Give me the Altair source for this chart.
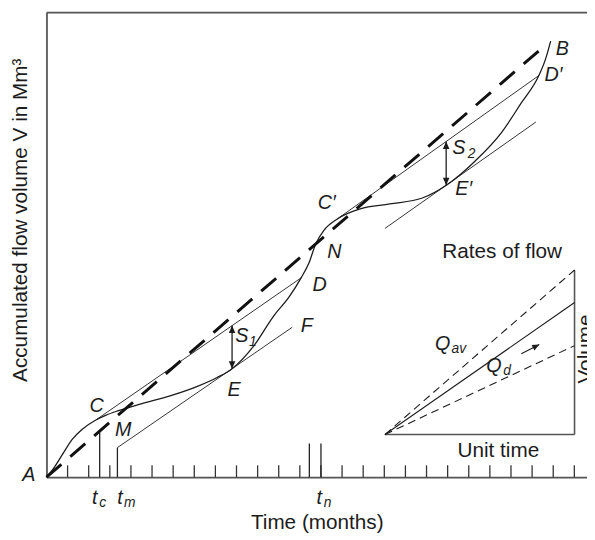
import altair as alt
import pandas as pd

# ---------------- data (x: months, y: accumulated volume, arbitrary units) ----------------
# mass curve of inflow A ... B
curve_month = [0.0, 0.37, 0.75, 1.21, 1.68, 2.34, 2.80, 3.41, 4.35, 5.89, 7.15, 8.08, 8.79,
               9.81, 10.75, 11.50, 12.06, 12.43, 12.76, 13.13, 13.79, 14.86, 16.26, 17.80,
               18.97, 20.33, 21.54, 22.48, 23.32, 23.64, 23.88]
curve_vol = [0.0, 0.47, 1.07, 1.78, 2.26, 2.71, 2.93, 3.15, 3.44, 3.86, 4.30, 4.72, 5.14,
             6.21, 7.62, 8.55, 9.44, 10.14, 11.07, 11.68, 12.24, 12.71, 12.94, 13.22,
             13.85, 15.00, 16.31, 17.71, 19.02, 19.81, 20.65]

# average-demand line A-B (dashed)
ab_month = [0.0, 23.64]
ab_vol = [0.0, 20.47]

# chords / tangents: CD, MF, C'D', tangent at E'
seg_x1 = [2.34, 3.36, 13.79, 16.03]
seg_y1 = [2.71, 1.40, 12.24, 11.78]
seg_x2 = [12.06, 11.64, 23.32, 23.18]
seg_y2 = [9.44, 7.10, 19.02, 16.82]

# storage arrows S1, S2
s_month = [8.79, 18.93]
s_low = [5.14, 13.82]
s_high = [7.18, 15.90]

# month ticks and marked times t_c, t_m, t_n
tick_months = list(range(1, 26))
tick_height = 0.56
mark_months = [2.52, 3.36, 12.45, 13.0]
mark_heights = [2.15, 1.40, 1.59, 1.59]

top_month = [0.0, 25.6]
top_vol = 22.0

# inset "rates of flow"
inset_x0, inset_y0 = 16.03, 2.02
inset_x1 = 25.01
ray_tops = [9.81, 8.27, 6.23]
ray_dashed = [True, False, True]
inset_arrow_from = (22.49, 5.85)
inset_arrow_to = (23.34, 6.28)

# labels
pt_text = ["A", "C", "M", "E", "D", "F", "N", "C\u2032", "E\u2032", "D\u2032", "B"]
pt_x = [-0.84, 2.38, 3.64, 8.88, 12.94, 12.33, 13.64, 13.27, 19.76, 24.01, 24.43]
pt_y = [0.12, 3.36, 2.24, 4.11, 9.11, 7.15, 10.65, 13.0, 13.66, 19.06, 20.29]

main_text = ["S", "S", "Q", "Q", "t", "t", "t"]
main_x = [9.25, 19.53, 18.76, 21.19, 2.29, 3.48, 12.92]
main_y = [6.66, 15.58, 6.31, 5.25, -0.97, -0.97, -0.97]
sub_text = ["1", "2", "av", "d", "c", "m", "n"]
sub_x = [9.78, 20.13, 19.53, 21.82, 2.66, 3.95, 13.31]
sub_y = [6.40, 15.30, 6.07, 5.04, -1.24, -1.24, -1.24]

plain_text = ["Rates of flow", "Unit time"]
plain_x = [21.58, 21.40]
plain_y = [10.65, 1.24]
vol_text = ["Volume"]
vol_x = [25.05]
vol_y = [6.07]

# ---------------- chart ----------------
FONT = "Liberation Sans"
INK = "#1c1c1c"
FRAME = "#555555"

xs = alt.Scale(domain=[0, 25.6], nice=False, zero=False)
ys = alt.Scale(domain=[0, 22], nice=False, zero=False)
xaxis = alt.Axis(title="Time (months)", labels=False, ticks=False, grid=False,
                 domainColor=FRAME, domainWidth=1.8, titleFont=FONT, titleFontSize=21,
                 titleFontWeight="normal", titleColor=INK, titleY=52,
                 titleBaseline="alphabetic")
yaxis = alt.Axis(title="Accumulated flow volume V in Mm\u00b3", labels=False, ticks=False,
                 grid=False, domainColor=FRAME, domainWidth=1.8, titleFont=FONT,
                 titleFontSize=21, titleFontWeight="normal", titleColor=INK,
                 titleAngle=270, titleX=-20, titleY=210, titleAlign="center",
                 titleBaseline="alphabetic")


def X(f="x"):
    return alt.X(f"{f}:Q", scale=xs, axis=xaxis)


def Y(f="y"):
    return alt.Y(f"{f}:Q", scale=ys, axis=yaxis)


curve_df = pd.DataFrame({"x": curve_month, "y": curve_vol})
ab_df = pd.DataFrame({"x": ab_month, "y": ab_vol})
seg_df = pd.DataFrame({"x": seg_x1, "y": seg_y1, "x2": seg_x2, "y2": seg_y2})
s_df = pd.DataFrame({"x": s_month, "y": s_low, "y2": s_high})
tick_df = pd.DataFrame({"x": tick_months, "y": [0.0] * len(tick_months),
                        "y2": [tick_height] * len(tick_months)})
mark_df = pd.DataFrame({"x": mark_months, "y": [0.0] * len(mark_months), "y2": mark_heights})
top_df = pd.DataFrame({"x": [top_month[0]], "x2": [top_month[1]], "y": [top_vol]})

box_df = pd.DataFrame({"x": [inset_x0, inset_x1], "y": [inset_y0, inset_y0],
                       "x2": [inset_x1, inset_x1], "y2": [inset_y0, ray_tops[0]]})
rays_df = pd.DataFrame({"x": [inset_x0] * 3, "y": [inset_y0] * 3,
                        "x2": [inset_x1] * 3, "y2": ray_tops, "dashed": ray_dashed})
iarrow_df = pd.DataFrame({"x": [inset_arrow_from[0]], "y": [inset_arrow_from[1]],
                          "x2": [inset_arrow_to[0]], "y2": [inset_arrow_to[1]]})
ihead_df = pd.DataFrame({"x": [inset_arrow_to[0]], "y": [inset_arrow_to[1]]})

head_up_df = pd.DataFrame({"x": s_month, "y": s_high})
head_dn_df = pd.DataFrame({"x": s_month, "y": s_low})

pt_df = pd.DataFrame({"x": pt_x, "y": pt_y, "t": pt_text})
main_df = pd.DataFrame({"x": main_x, "y": main_y, "t": main_text})
sub_df = pd.DataFrame({"x": sub_x, "y": sub_y, "t": sub_text})
plain_df = pd.DataFrame({"x": plain_x, "y": plain_y, "t": plain_text})
vol_df = pd.DataFrame({"x": vol_x, "y": vol_y, "t": vol_text})

UP = "M0,0L-0.7,1.6L0.7,1.6Z"
DOWN = "M0,0L-0.7,-1.6L0.7,-1.6Z"

layers = [
    alt.Chart(top_df).mark_rule(color=FRAME, strokeWidth=2).encode(
        x=X(), x2="x2:Q", y=Y()),
    alt.Chart(tick_df).mark_rule(color="#333", strokeWidth=1.3).encode(
        x=X(), y=Y(), y2="y2:Q"),
    alt.Chart(mark_df).mark_rule(color="#222", strokeWidth=1.3).encode(
        x=X(), y=Y(), y2="y2:Q"),
    alt.Chart(seg_df).mark_rule(color=INK, strokeWidth=0.9).encode(
        x=X(), y=Y(), x2="x2:Q", y2="y2:Q"),
    alt.Chart(curve_df).mark_line(color=INK, strokeWidth=1.3, interpolate="monotone").encode(
        x=X(), y=Y()),
    alt.Chart(ab_df).mark_line(color="#111", strokeWidth=3, strokeDash=[20, 12]).encode(
        x=X(), y=Y()),
    alt.Chart(s_df).mark_rule(color=INK, strokeWidth=1.3).encode(
        x=X(), y=Y(), y2="y2:Q"),
    alt.Chart(head_up_df).mark_point(shape=UP, size=90, filled=True, color=INK, opacity=1).encode(
        x=X(), y=Y()),
    alt.Chart(head_dn_df).mark_point(shape=DOWN, size=90, filled=True, color=INK, opacity=1).encode(
        x=X(), y=Y()),
    alt.Chart(box_df).mark_rule(color=FRAME, strokeWidth=1.6).encode(
        x=X(), y=Y(), x2="x2:Q", y2="y2:Q"),
    alt.Chart(rays_df).transform_filter("!datum.dashed").mark_rule(
        color=INK, strokeWidth=1.1).encode(x=X(), y=Y(), x2="x2:Q", y2="y2:Q"),
    alt.Chart(rays_df).transform_filter("datum.dashed").mark_rule(
        color=INK, strokeWidth=1.1, strokeDash=[8, 5]).encode(
        x=X(), y=Y(), x2="x2:Q", y2="y2:Q"),
    alt.Chart(iarrow_df).mark_rule(color=INK, strokeWidth=1.1).encode(
        x=X(), y=Y(), x2="x2:Q", y2="y2:Q"),
    alt.Chart(ihead_df).mark_point(shape=UP, size=80, filled=True, color=INK, opacity=1,
                                   angle=63).encode(x=X(), y=Y()),
    alt.Chart(pt_df).mark_text(font=FONT, fontStyle="italic", fontSize=20, color=INK,
                               align="center", baseline="middle").encode(
        x=X(), y=Y(), text="t:N"),
    alt.Chart(main_df).mark_text(font=FONT, fontStyle="italic", fontSize=20, color=INK,
                                 align="center", baseline="middle").encode(
        x=X(), y=Y(), text="t:N"),
    alt.Chart(sub_df).mark_text(font=FONT, fontStyle="italic", fontSize=14, color=INK,
                                align="center", baseline="middle").encode(
        x=X(), y=Y(), text="t:N"),
    alt.Chart(plain_df).mark_text(font=FONT, fontSize=21, color=INK,
                                  align="center", baseline="middle").encode(
        x=X(), y=Y(), text="t:N"),
    alt.Chart(vol_df).mark_text(font=FONT, fontSize=21, color=INK, angle=270,
                                align="center", baseline="top").encode(
        x=X(), y=Y(), text="t:N"),
]

chart = alt.layer(*layers).properties(
    width=548, height=471,
    autosize=alt.AutoSizeParams(type="none"),
    padding={"left": 39, "top": 1, "right": 0, "bottom": 60},
    background="white",
).configure_view(stroke=None)

chart.save("out.html", embed_options={"renderer": "svg", "actions": False})
